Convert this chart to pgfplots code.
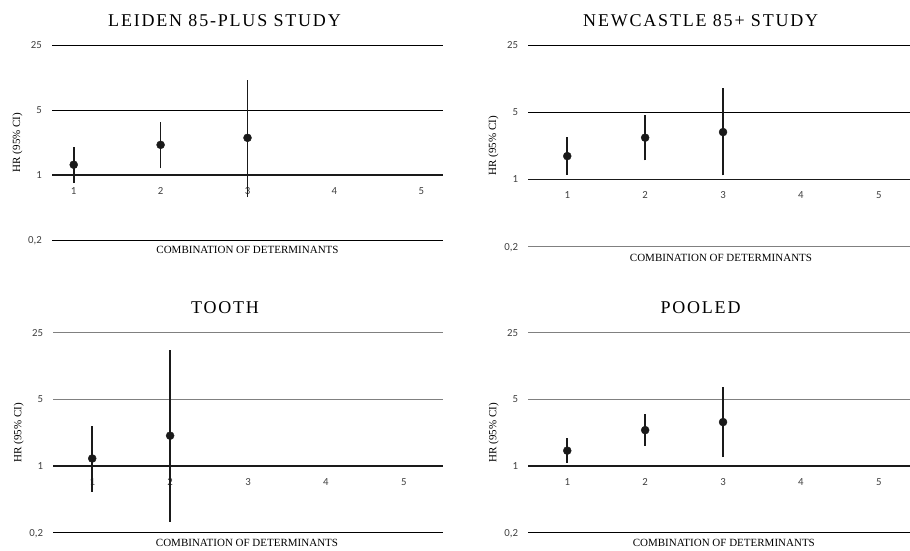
\documentclass[border=0pt]{standalone}
\usepackage{fontspec}
\setmainfont{Liberation Serif}
\newfontfamily\tickfont{Carlito}
\newfontfamily\titlefont[LetterSpace=10]{Liberation Serif}
\usepackage{pgfplots}
\pgfplotsset{compat=1.18}
\definecolor{gridgray}{RGB}{128,128,128}
\definecolor{ink}{RGB}{26,26,26}
\definecolor{ticktext}{RGB}{64,64,64}
\pgfplotsset{
 hrpanel/.style={
  scale only axis, anchor=south west,
  ymin=0.2, ymax=25,
  ytick={0.2,1,5,25}, yticklabels={{0,2},1,5,25},
  xtick={1,2,3,4,5}, xticklabels={1,2,3,4,5},
  axis x line=middle, axis y line*=left,
  x axis line style={-, line width=1.9bp, color=ink},
  y axis line style={draw=none},
  major tick length=0pt,
  tick style={draw=none},
  ymajorgrids,
  ticklabel style={font=\tickfont\fontsize{10.8bp}{12bp}\selectfont, inner sep=0pt, text=ticktext},
  yticklabel style={anchor=base east, xshift=-10bp, yshift=-3.3bp},
  xticklabel style={anchor=base, yshift=-19.5bp},
  clip=false,
 },
 hrbar/.style={color=ink, line width=1.6bp},
 hrpt/.style={only marks, mark=*, mark size=4bp, color=ink},
}
\newcommand\ttl{\titlefont\fontsize{18bp}{20bp}\selectfont}
\newcommand\lbl{\fontsize{11bp}{13bp}\selectfont}
\begin{document}
\begin{tikzpicture}
\useasboundingbox (0,0) rectangle (910bp,-551bp);
% ---------- Leiden
\begin{semilogyaxis}[hrpanel, at={(52bp,-240bp)}, width=391bp, height=195bp, xmin=0.75, xmax=5.25,
  major grid style={line width=0.9bp, color=black}]
\addplot[hrbar] coordinates {(1,0.82) (1,2.02)};
\addplot[hrbar] coordinates {(2,1.18) (2,3.76)};
\addplot[hrbar] coordinates {(3,0.58) (3,10.6)};
\addplot[hrpt] coordinates {(1,1.29) (2,2.11) (3,2.51)};
\end{semilogyaxis}
\node[font=\ttl, anchor=base] at (224.5bp,-26bp) {LEIDEN 85-PLUS STUDY};
\node[font=\lbl, rotate=90] at (17.5bp,-142.5bp) {HR (95\% CI)};
\node[font=\lbl, anchor=base] at (247.5bp,-253.3bp) {COMBINATION OF DETERMINANTS};
% ---------- Newcastle
\begin{semilogyaxis}[hrpanel, at={(528.3bp,-246.7bp)}, width=389.5bp, height=201.7bp, xmin=0.5, xmax=5.5,
  major grid style={line width=0.9bp, color=black}]
\draw[gridgray, line width=0.9bp] (rel axis cs:0,0) -- (rel axis cs:1,0);
\addplot[hrbar] coordinates {(1,1.12) (1,2.76)};
\addplot[hrbar] coordinates {(2,1.58) (2,4.65)};
\addplot[hrbar] coordinates {(3,1.10) (3,8.96)};
\addplot[hrpt] coordinates {(1,1.75) (2,2.72) (3,3.11)};
\end{semilogyaxis}
\node[font=\ttl, anchor=base] at (700.7bp,-26bp) {NEWCASTLE 85+ STUDY};
\node[font=\lbl, rotate=90] at (493.5bp,-145.8bp) {HR (95\% CI)};
\node[font=\lbl, anchor=base] at (721bp,-261.7bp) {COMBINATION OF DETERMINANTS};
% ---------- TOOTH
\begin{semilogyaxis}[hrpanel, at={(53.3bp,-532.7bp)}, width=389.4bp, height=200bp, xmin=0.5, xmax=5.5,
  major grid style={line width=0.9bp, color=gridgray}]
\draw[black, line width=0.9bp] (rel axis cs:0,0) -- (rel axis cs:1,0);
\addplot[hrbar] coordinates {(1,0.54) (1,2.63)};
\addplot[hrbar] coordinates {(2,0.26) (2,16.4)};
\addplot[hrpt] coordinates {(1,1.20) (2,2.08)};
\end{semilogyaxis}
\node[font=\ttl, anchor=base] at (225bp,-313.3bp) {TOOTH};
\node[font=\lbl, rotate=90] at (18.8bp,-432.7bp) {HR (95\% CI)};
\node[font=\lbl, anchor=base] at (247bp,-546.5bp) {COMBINATION OF DETERMINANTS};
% ---------- POOLED
\begin{semilogyaxis}[hrpanel, at={(528.3bp,-532.7bp)}, width=389.5bp, height=200bp, xmin=0.5, xmax=5.5,
  major grid style={line width=0.9bp, color=gridgray}]
\draw[black, line width=0.9bp] (rel axis cs:0,0) -- (rel axis cs:1,0);
\addplot[hrbar] coordinates {(1,1.08) (1,1.95)};
\addplot[hrbar] coordinates {(2,1.63) (2,3.51)};
\addplot[hrbar] coordinates {(3,1.24) (3,6.79)};
\addplot[hrpt] coordinates {(1,1.45) (2,2.38) (3,2.89)};
\end{semilogyaxis}
\node[font=\ttl, anchor=base] at (700.5bp,-313.3bp) {POOLED};
\node[font=\lbl, rotate=90] at (493.8bp,-432.7bp) {HR (95\% CI)};
\node[font=\lbl, anchor=base] at (723.8bp,-546.5bp) {COMBINATION OF DETERMINANTS};
\end{tikzpicture}
\end{document}
